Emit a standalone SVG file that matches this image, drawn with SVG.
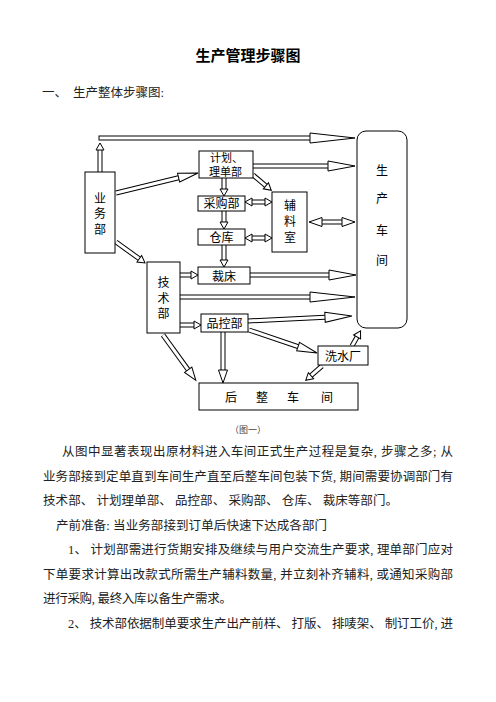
<svg xmlns="http://www.w3.org/2000/svg" width="496" height="702" viewBox="0 0 496 702">
<style>
.bx{fill:#fff;stroke:#000;stroke-width:1}
.o{fill:none;stroke:#000;stroke-width:5}
.i{fill:none;stroke:#fff;stroke-width:3}
.lb{font-family:"Noto Sans CJK SC","Liberation Sans",sans-serif;font-size:12px;fill:#000;text-anchor:middle}
.ls{font-family:"Noto Sans CJK SC","Liberation Sans",sans-serif;font-size:11px;fill:#000}
.bt{font-family:"Liberation Serif","Noto Sans CJK SC",serif;font-size:12.5px;fill:#222}
.hd{fill:#fff;stroke:#000;stroke-width:1;stroke-linejoin:miter}
</style>
<defs>
<marker id="hs" markerUnits="userSpaceOnUse" orient="auto-start-reverse" refX="0" refY="4" markerWidth="8" markerHeight="8" overflow="visible"><path class="hd" d="M0,0 L7,4 L0,8 Z"/></marker>
<marker id="hm" markerUnits="userSpaceOnUse" orient="auto-start-reverse" refX="0" refY="4.5" markerWidth="14" markerHeight="9" overflow="visible"><path class="hd" d="M0,0 L13,4.5 L0,9 Z"/></marker>
<marker id="hd" markerUnits="userSpaceOnUse" orient="auto-start-reverse" refX="0" refY="4.5" markerWidth="20" markerHeight="9" overflow="visible"><path class="hd" d="M0,0 L20,4.5 L0,9 Z"/></marker>
<marker id="hl" markerUnits="userSpaceOnUse" orient="auto-start-reverse" refX="0" refY="5" markerWidth="27" markerHeight="10" overflow="visible"><path class="hd" d="M0,0 L27,5 L0,10 Z"/></marker>
<marker id="hx" markerUnits="userSpaceOnUse" orient="auto-start-reverse" refX="0" refY="5" markerWidth="45" markerHeight="10" overflow="visible"><path class="hd" d="M0,0 L45,5 L0,10 Z"/></marker>
</defs>
<rect width="496" height="702" fill="#fff"/>

<text x="248" y="61" text-anchor="middle" font-family="Noto Sans CJK SC, sans-serif" font-size="15" font-weight="bold" fill="#000">生产管理步骤图</text>
<text class="bt" x="42" y="97">一、</text>
<text class="bt" x="73" y="97">生产整体步骤图:</text>

<g id="connectors">
<path class="o" d="M100,172 V150"/><path class="i" d="M100,172 V150" marker-end="url(#hs)"/>
<path class="o" d="M98.5,138 H310"/><path class="i" d="M99.5,138 H310" marker-end="url(#hx)"/>
<path class="o" d="M253,166 H328"/><path class="i" d="M253,166 H328" marker-end="url(#hl)"/>
<path class="o" d="M253,175 L265.9,185.8"/><path class="i" d="M253,175 L265.9,185.8" marker-end="url(#hs)"/>
<path class="o" d="M252,202 H265"/><path class="i" d="M252,202 H265" marker-start="url(#hs)" marker-end="url(#hs)"/>
<path class="o" d="M252,238 H265"/><path class="i" d="M252,238 H265" marker-start="url(#hs)" marker-end="url(#hs)"/>
<path class="o" d="M322,222 H342"/><path class="i" d="M322,222 H342" marker-start="url(#hm)" marker-end="url(#hm)"/>
<path class="o" d="M116,193 L178.6,177.7"/><path class="i" d="M116,193 L178.6,177.7" marker-end="url(#hd)"/>
<path class="o" d="M116,242 L139.3,258.8"/><path class="i" d="M116,242 L139.3,258.8" marker-end="url(#hs)"/>
<path class="o" d="M224,178 V189"/><path class="i" d="M224,178 V189" marker-end="url(#hs)"/>
<path class="o" d="M224,211 V222"/><path class="i" d="M224,211 V222" marker-end="url(#hs)"/>
<path class="o" d="M224,245 V260"/><path class="i" d="M224,245 V260" marker-end="url(#hs)"/>
<path class="o" d="M180,275 H191"/><path class="i" d="M180,275 H191" marker-end="url(#hs)"/>
<path class="o" d="M180,325 H194"/><path class="i" d="M180,325 H194" marker-end="url(#hs)"/>
<path class="o" d="M180,297 H310"/><path class="i" d="M180,297 H310" marker-end="url(#hx)"/>
<path class="o" d="M250,275 H329"/><path class="i" d="M250,275 H329" marker-end="url(#hl)"/>
<path class="o" d="M248,321 L325,317.3"/><path class="i" d="M248,321 L325,317.3" marker-end="url(#hl)"/>
<path class="o" d="M249,330 L298.1,346.6"/><path class="i" d="M249,330 L298.1,346.6" marker-end="url(#hd)"/>
<path class="o" d="M352,346 L357.1,337"/><path class="i" d="M352,346 L357.1,337" marker-end="url(#hs)"/>
<path class="o" d="M322,366 L311,375.7"/><path class="i" d="M322,366 L311,375.7" marker-end="url(#hs)"/>
<path class="o" d="M223,332 V370"/><path class="i" d="M223,332 V370" marker-end="url(#hm)"/>
<path class="o" d="M163,335 L188.2,369.8"/><path class="i" d="M163,335 L188.2,369.8" marker-end="url(#hm)"/>
</g>

<g id="yewubu"><rect class="bx" x="85" y="172" width="30" height="81"/>
<text class="lb"><tspan x="100" y="202.5">业</tspan><tspan x="100" y="218">务</tspan><tspan x="100" y="233.5">部</tspan></text></g>
<g id="jihua"><rect class="bx" x="199" y="151" width="54" height="27"/>
<text class="ls"><tspan x="210" y="161.5">计划、</tspan><tspan x="209" y="176">理单部</tspan></text></g>
<g id="caigou"><rect class="bx" x="198" y="196" width="47" height="15"/><text class="lb" x="221.5" y="208">采购部</text></g>
<g id="cangku"><rect class="bx" x="198" y="229" width="47" height="16"/><text class="lb" x="221.5" y="241.5">仓库</text></g>
<g id="fuliao"><rect class="bx" x="272" y="192" width="35" height="60"/>
<text class="lb"><tspan x="290" y="209.5">辅</tspan><tspan x="290" y="226">料</tspan><tspan x="290" y="242">室</tspan></text></g>
<g id="shengchan"><rect class="bx" x="357" y="131" width="50" height="197" rx="9"/>
<text class="lb"><tspan x="382" y="174.5">生</tspan><tspan x="382" y="202.5">产</tspan><tspan x="382" y="234.5">车</tspan><tspan x="382" y="264.5">间</tspan></text></g>
<g id="jishu"><rect class="bx" x="147" y="262" width="33" height="71"/>
<text class="lb" font-size="12.5"><tspan x="163.5" y="287">技</tspan><tspan x="163.5" y="302.5">术</tspan><tspan x="163.5" y="318">部</tspan></text></g>
<g id="caichuang"><rect class="bx" x="198" y="267" width="52" height="17"/><text class="lb" x="224" y="280.5">裁床</text></g>
<g id="pinkong"><rect class="bx" x="201" y="314" width="47" height="18"/><text class="lb" x="224.5" y="327.5">品控部</text></g>
<g id="xishui"><rect class="bx" x="318" y="346" width="50" height="19"/><text class="lb" x="343" y="360.5">洗水厂</text></g>
<g id="houzheng"><rect class="bx" x="199" y="383" width="159" height="27"/>
<text class="lb"><tspan x="231" y="401.5">后</tspan><tspan x="262" y="401.5">整</tspan><tspan x="293" y="401.5">车</tspan><tspan x="327" y="401.5">间</tspan></text></g>

<text x="248" y="433" text-anchor="middle" font-family="Liberation Serif, Noto Sans CJK SC, serif" font-size="9" fill="#444">（图一）</text>

<text class="bt" x="62" y="456" textLength="391" lengthAdjust="spacing">从图中显著表现出原材料进入车间正式生产过程是复杂, 步骤之多; 从</text>
<text class="bt" x="43" y="481" textLength="410" lengthAdjust="spacing">业务部接到定单直到车间生产直至后整车间包装下货, 期间需要协调部门有</text>
<text class="bt" x="43" y="505" textLength="355" lengthAdjust="spacing">技术部、 计划理单部、 品控部、 采购部、 仓库、 裁床等部门。</text>
<text class="bt" x="56" y="530" textLength="271" lengthAdjust="spacing">产前准备: 当业务部接到订单后快速下达成各部门</text>
<text class="bt" x="68" y="554" textLength="385" lengthAdjust="spacing">1、 计划部需进行货期安排及继续与用户交流生产要求, 理单部门应对</text>
<text class="bt" x="43" y="579" textLength="410" lengthAdjust="spacing">下单要求计算出改款式所需生产辅料数量, 并立刻补齐辅料, 或通知采购部</text>
<text class="bt" x="43" y="603" textLength="189" lengthAdjust="spacing">进行采购, 最终入库以备生产需求。</text>
<text class="bt" x="68" y="628" textLength="385" lengthAdjust="spacing">2、 技术部依据制单要求生产出产前样、 打版、 排唛架、 制订工价, 进</text>
</svg>
